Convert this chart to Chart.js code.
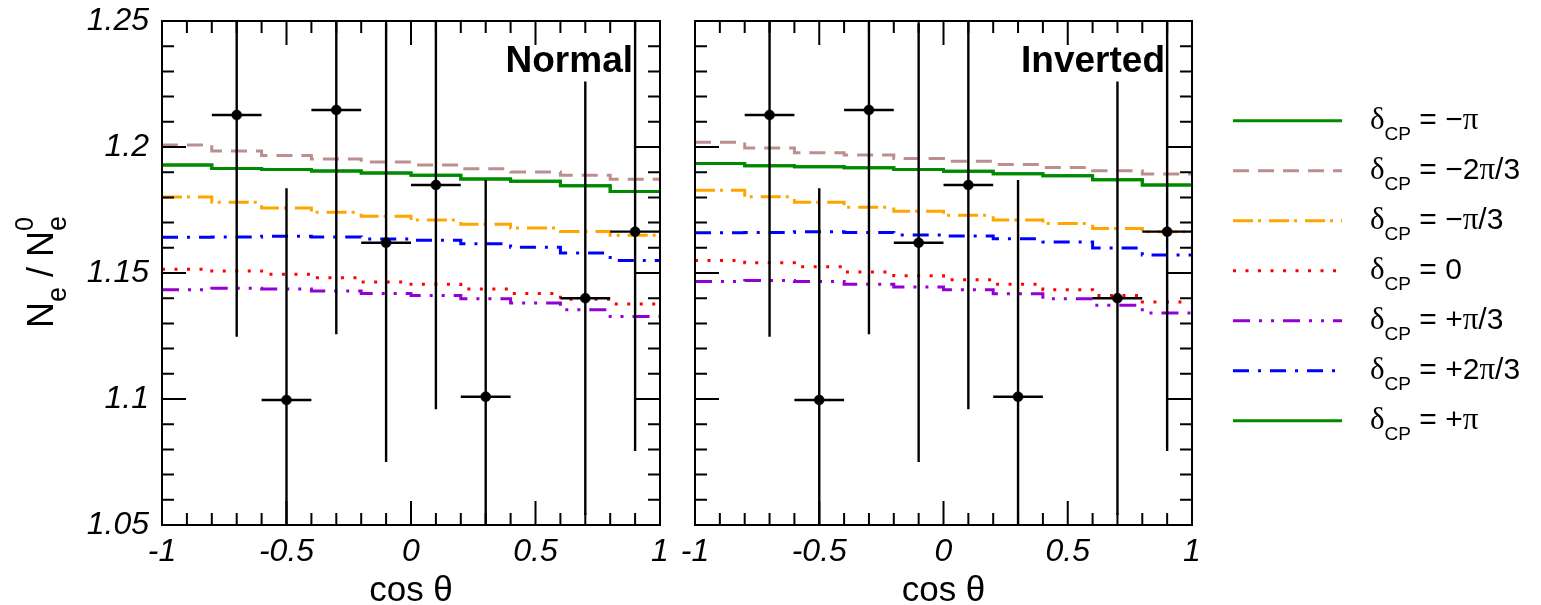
<!DOCTYPE html>
<html><head><meta charset="utf-8">
<script src="https://cdn.jsdelivr.net/npm/chart.js@4.4.1/dist/chart.umd.min.js"></script>
<style>
html,body{margin:0;padding:0;background:#fff;}
#wrap{position:relative;width:1541px;height:605px;overflow:hidden;background:#fff;}
canvas{position:absolute;top:0;}
#c1{left:0;} #c2{left:680px;}
</style></head><body>
<div id="wrap"><canvas id="c1" width="680" height="605"></canvas><canvas id="c2" width="861" height="605"></canvas></div>
<script>
// ---------------- data ----------------
const binEdges = [-1, -0.8, -0.6, -0.4, -0.2, 0, 0.2, 0.4, 0.6, 0.8, 1];

const dataX    = [-0.7, -0.5, -0.3, -0.1, 0.1, 0.3, 0.7, 0.9];
const dataXErr = [0.1, 0.1, 0.1, 0.1, 0.1, 0.1, 0.1, 0.1];
const dataY    = [1.2127, 1.0996, 1.2147, 1.1620, 1.1849, 1.1009, 1.1400, 1.1664];
const dataYErr = [0.088, 0.084, 0.089, 0.087, 0.089, 0.086, 0.086, 0.087];

// Normal hierarchy, one value per bin
const normalMinusPi    = [1.1929, 1.1915, 1.1911, 1.1905, 1.1897, 1.1888, 1.1873, 1.1864, 1.1846, 1.1823];
const normalMinus2Pi3  = [1.2008, 1.1984, 1.1966, 1.1952, 1.1940, 1.1929, 1.1914, 1.1901, 1.1888, 1.1872];
const normalMinusPi3   = [1.1802, 1.1781, 1.1758, 1.1741, 1.1725, 1.1710, 1.1693, 1.1679, 1.1665, 1.1650];
const normalZero       = [1.1515, 1.1508, 1.1495, 1.1481, 1.1464, 1.1455, 1.1437, 1.1419, 1.1396, 1.1377];
const normalPlusPi3    = [1.1434, 1.1439, 1.1437, 1.1429, 1.1419, 1.1411, 1.1398, 1.1381, 1.1354, 1.1327];
const normalPlus2Pi3   = [1.1642, 1.1643, 1.1646, 1.1643, 1.1635, 1.1630, 1.1616, 1.1602, 1.1579, 1.1550];
const normalPlusPi     = [1.1929, 1.1915, 1.1911, 1.1905, 1.1897, 1.1888, 1.1873, 1.1864, 1.1846, 1.1823];

// Inverted hierarchy
const invertedMinusPi   = [1.1935, 1.1926, 1.1922, 1.1918, 1.1911, 1.1904, 1.1894, 1.1886, 1.1870, 1.1849];
const invertedMinus2Pi3 = [1.2019, 1.1996, 1.1977, 1.1968, 1.1954, 1.1943, 1.1931, 1.1919, 1.1906, 1.1893];
const invertedMinusPi3  = [1.1828, 1.1803, 1.1781, 1.1761, 1.1745, 1.1729, 1.1710, 1.1696, 1.1677, 1.1664];
const invertedZero      = [1.1550, 1.1541, 1.1525, 1.1504, 1.1489, 1.1473, 1.1455, 1.1434, 1.1411, 1.1385];
const invertedPlusPi3   = [1.1466, 1.1470, 1.1466, 1.1455, 1.1444, 1.1434, 1.1418, 1.1398, 1.1372, 1.1341];
const invertedPlus2Pi3  = [1.1660, 1.1661, 1.1664, 1.1661, 1.1651, 1.1647, 1.1636, 1.1623, 1.1599, 1.1571];
const invertedPlusPi    = [1.1935, 1.1926, 1.1922, 1.1918, 1.1911, 1.1904, 1.1894, 1.1886, 1.1870, 1.1849];

const legendLabels = ['\u2212\u03c0', '\u22122\u03c0/3', '\u2212\u03c0/3', '0', '+\u03c0/3', '+2\u03c0/3', '+\u03c0'];

const xTicks = [-1, -0.5, 0, 0.5, 1];
const xTickLabels = ['-1', '-0.5', '0', '0.5', '1'];
const yTicks = [1.05, 1.1, 1.15, 1.2, 1.25];
const yTickLabels = ['1.05', '1.1', '1.15', '1.2', '1.25'];

// ---------------- styles ----------------
const seriesStyles = [
  {color: '#008a00', dash: []},
  {color: '#bc8f8f', dash: [16, 9]},
  {color: '#ffa500', dash: [20, 5, 3, 8]},
  {color: '#ff0000', dash: [3, 9.5]},
  {color: '#9400d3', dash: [17, 9, 3, 9, 3, 9]},
  {color: '#0000ff', dash: [16, 9, 3, 9]},
  {color: '#008a00', dash: []}
];
const SANS = "'Liberation Sans', Arial, Helvetica, sans-serif";
const SERIF = "'Liberation Serif', 'Times New Roman', serif";

function stepData(vals) {
  return binEdges.map((e, i) => ({x: e, y: vals[Math.min(i, vals.length - 1)]}));
}
function vErrData() {
  const d = [];
  dataX.forEach((x, i) => { d.push({x, y: dataY[i] - dataYErr[i]}, {x, y: dataY[i] + dataYErr[i]}, {x, y: null}); });
  return d;
}
function hErrData() {
  const d = [];
  dataX.forEach((x, i) => { d.push({x: x - dataXErr[i], y: dataY[i]}, {x: x + dataXErr[i], y: dataY[i]}, {x, y: null}); });
  return d;
}

function buildDatasets(series) {
  const ds = [
    {data: dataX.map((x, i) => ({x, y: dataY[i]})), showLine: false, pointRadius: 5, pointBorderWidth: 0.5,
     pointBackgroundColor: '#000', pointBorderColor: '#000', borderColor: '#000'},
    {data: vErrData(), showLine: true, spanGaps: false, pointRadius: 0, borderWidth: 2.4, borderColor: '#000'},
    {data: hErrData(), showLine: true, spanGaps: false, pointRadius: 0, borderWidth: 2.4, borderColor: '#000'}
  ];
  series.forEach((vals, k) => {
    ds.push({data: stepData(vals), stepped: true, showLine: true, pointRadius: 0, borderWidth: 3,
      borderColor: seriesStyles[k].color, borderDash: seriesStyles[k].dash, fill: false, tension: 0});
  });
  return ds;
}

function drawPieces(ctx, pieces, x, y) {
  let cx = x;
  for (const p of pieces) {
    ctx.font = p.font;
    ctx.fillText(p.t, cx, y + (p.dy || 0));
    if (!p.noAdvance) cx += ctx.measureText(p.t).width;
  }
  return cx;
}

// frame, ticks, titles
const framePlugin = {
  id: 'rootFrame',
  afterDraw(chart, args, opts) {
    const {ctx, chartArea: a} = chart;
    const xs = chart.scales.x, ys = chart.scales.y;
    ctx.save();
    ctx.strokeStyle = '#000';
    ctx.lineWidth = 2;
    ctx.lineCap = 'butt';
    ctx.beginPath();
    for (let k = 1; k < 20; k++) {
      const px = xs.getPixelForValue(-1 + k * 0.1);
      const L = (k % 5 === 0) ? 24 : 12;
      ctx.moveTo(px, a.bottom); ctx.lineTo(px, a.bottom - L);
      ctx.moveTo(px, a.top); ctx.lineTo(px, a.top + L);
    }
    for (let k = 1; k < 20; k++) {
      const py = ys.getPixelForValue(1.05 + k * 0.01);
      const L = (k % 5 === 0) ? 24 : 12;
      ctx.moveTo(a.left, py); ctx.lineTo(a.left + L, py);
      ctx.moveTo(a.right, py); ctx.lineTo(a.right - L, py);
    }
    ctx.stroke();
    ctx.strokeRect(a.left, a.top, a.right - a.left, a.bottom - a.top);

    ctx.fillStyle = '#000';
    // panel label
    ctx.font = 'bold 37px ' + SANS;
    ctx.textAlign = 'right';
    ctx.textBaseline = 'alphabetic';
    ctx.fillText(opts.panel, a.right - 27, 72);
    // x title
    ctx.textAlign = 'left';
    const cx = (a.left + a.right) / 2;
    ctx.font = '35px ' + SANS;
    const w = ctx.measureText('cos \u03b8').width;
    drawPieces(ctx, [{t: 'cos \u03b8', font: '35px ' + SANS}], cx - w / 2, 601);

    if (opts.yTitle) {
      ctx.save();
      ctx.translate(53, 328);
      ctx.rotate(-Math.PI / 2);
      const big = '36px ' + SANS, sub = '27px ' + SANS, sup = '25px ' + SANS;
      drawPieces(ctx, [
        {t: 'N', font: big}, {t: 'e', font: sub, dy: 13}, {t: ' / ', font: big},
        {t: 'N', font: big}, {t: 'e', font: sub, dy: 13, noAdvance: true}, {t: '0', font: sup, dy: -20}
      ], 0, 0);
      ctx.restore();
    }

    if (opts.legend) {
      const x0 = 1233 - 680, x1 = 1342 - 680, tx = 1370 - 680;
      legendLabels.forEach((lab, i) => {
        const yy = 120.7 + 50 * i;
        const st = seriesStyles[i];
        ctx.save();
        ctx.strokeStyle = st.color;
        ctx.lineWidth = 3;
        ctx.setLineDash(st.dash);
        ctx.beginPath(); ctx.moveTo(x0, yy); ctx.lineTo(x1, yy); ctx.stroke();
        ctx.restore();
        const pieces = [{t: '\u03b4', font: '31px ' + SERIF}, {t: 'CP', font: '19px ' + SANS, dy: 11.5},
          {t: ' = ', font: '30px ' + SANS}];
        for (const ch of lab) {
          pieces.push({t: ch, font: (ch === '\u03c0' ? '31px ' + SERIF : '30px ' + SANS)});
        }
        ctx.fillStyle = '#000';
        drawPieces(ctx, pieces, tx, yy + 8);
      });
    }
    ctx.restore();
  }
};

function makeChart(id, series, panel, isLeft) {
  return new Chart(document.getElementById(id), {
    type: 'line',
    data: {datasets: buildDatasets(series)},
    options: {
      responsive: false, animation: false, devicePixelRatio: 1,
      layout: {padding: isLeft ? {left: 0, top: 21, right: 20, bottom: 0} : {left: 0, top: 21, right: 349, bottom: 0}},
      plugins: {legend: {display: false}, tooltip: {enabled: false}, rootFrame: {panel, yTitle: isLeft, legend: !isLeft}},
      scales: {
        x: {
          type: 'linear', min: -1, max: 1,
          afterBuildTicks: s => { s.ticks = xTicks.map(v => ({value: v})); },
          afterFit: s => { s.height = 80; s.paddingLeft = 0; s.paddingRight = 0; },
          grid: {display: false, drawTicks: false}, border: {display: false},
          ticks: {autoSkip: false, maxRotation: 0, minRotation: 0, padding: 8, color: '#000',
            font: {family: SANS, size: 32, style: 'italic'},
            callback: (v, i) => xTickLabels[i]}
        },
        y: {
          type: 'linear', min: 1.05, max: 1.25,
          afterBuildTicks: s => { s.ticks = yTicks.map(v => ({value: v})); },
          afterFit: s => { s.width = isLeft ? 162 : 15; s.paddingTop = 0; s.paddingBottom = 0; },
          grid: {display: false, drawTicks: false}, border: {display: false},
          ticks: {display: isLeft, autoSkip: false, padding: 13, color: '#000',
            font: {family: SANS, size: 32, style: 'italic'},
            callback: (v, i) => yTickLabels[i]}
        }
      }
    },
    plugins: [framePlugin]
  });
}

makeChart('c1', [normalMinusPi, normalMinus2Pi3, normalMinusPi3, normalZero, normalPlusPi3, normalPlus2Pi3, normalPlusPi], 'Normal', true);
makeChart('c2', [invertedMinusPi, invertedMinus2Pi3, invertedMinusPi3, invertedZero, invertedPlusPi3, invertedPlus2Pi3, invertedPlusPi], 'Inverted', false);
</script>
</body></html>
